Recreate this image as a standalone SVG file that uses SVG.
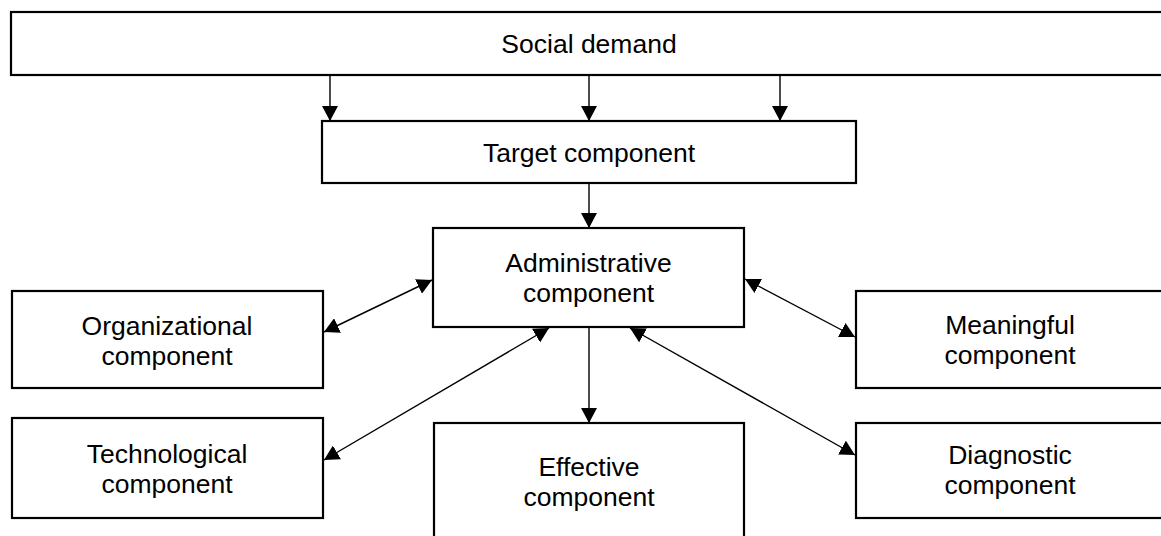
<svg xmlns="http://www.w3.org/2000/svg" width="1161" height="536" viewBox="0 0 1161 536">
  <style>
    .box { fill: #ffffff; stroke: #000000; stroke-width: 2.2; }
    .label { font-family: "Liberation Sans", Arial, sans-serif; font-size: 26.5px; fill: #000000; text-anchor: middle; }
    .conn { stroke: #000000; stroke-width: 1.4; fill: none; }
    .one { marker-end: url(#head); }
    .both { marker-start: url(#head); marker-end: url(#head); }
  </style>
  <defs>
    <marker id="head" markerUnits="userSpaceOnUse" markerWidth="16" markerHeight="16" refX="15" refY="8" orient="auto-start-reverse" viewBox="0 0 16 16">
      <path d="M0,0 L15,8 L0,16 Z" fill="#000000"/>
    </marker>
  </defs>
  <rect width="1161" height="536" fill="#ffffff"/>

  <!-- connectors -->
  <g id="connectors">
    <line class="conn one" x1="330" y1="75" x2="330" y2="121"/>
    <line class="conn one" x1="589" y1="75" x2="589" y2="121"/>
    <line class="conn one" x1="780" y1="75" x2="780" y2="121"/>
    <line class="conn one" x1="589" y1="183" x2="589" y2="228"/>
    <line class="conn one" x1="589" y1="327" x2="589" y2="423"/>
    <line class="conn both" x1="324" y1="332" x2="432" y2="280"/>
    <line class="conn both" x1="324" y1="460" x2="549" y2="328"/>
    <line class="conn both" x1="855" y1="337" x2="745" y2="279"/>
    <line class="conn both" x1="855" y1="455" x2="630" y2="328"/>
  </g>

  <g id="social-demand">
    <rect class="box" x="11" y="12" width="1160" height="63"/>
    <text class="label" x="589" y="53">Social demand</text>
  </g>
  <g id="target">
    <rect class="box" x="322" y="121" width="534" height="62"/>
    <text class="label" x="589" y="161.5">Target component</text>
  </g>
  <g id="administrative">
    <rect class="box" x="433" y="228" width="311" height="99"/>
    <text class="label" x="588.5" y="271.5">Administrative</text>
    <text class="label" x="588.5" y="301.5">component</text>
  </g>
  <g id="organizational">
    <rect class="box" x="12" y="291" width="311" height="97"/>
    <text class="label" x="167" y="335">Organizational</text>
    <text class="label" x="167" y="365">component</text>
  </g>
  <g id="technological">
    <rect class="box" x="12" y="418" width="311" height="100"/>
    <text class="label" x="167" y="463">Technological</text>
    <text class="label" x="167" y="493">component</text>
  </g>
  <g id="effective">
    <rect class="box" x="434" y="423" width="310" height="130"/>
    <text class="label" x="589" y="476">Effective</text>
    <text class="label" x="589" y="506">component</text>
  </g>
  <g id="meaningful">
    <rect class="box" x="856" y="291" width="312" height="97"/>
    <text class="label" x="1010" y="334">Meaningful</text>
    <text class="label" x="1010" y="364">component</text>
  </g>
  <g id="diagnostic">
    <rect class="box" x="856" y="423" width="312" height="95"/>
    <text class="label" x="1010" y="464">Diagnostic</text>
    <text class="label" x="1010" y="494">component</text>
  </g>
</svg>
